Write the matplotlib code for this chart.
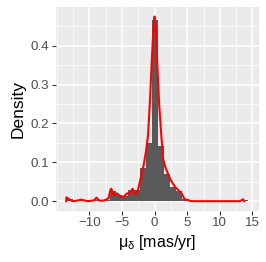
import numpy as np
import matplotlib
matplotlib.use("Agg")
import matplotlib.pyplot as plt
from matplotlib.ticker import MultipleLocator

# ---- data ----
bin_start = -13.37
bin_width = 0.925
hist_density = [0.006, 0.001, 0.002, 0.002, 0.004, 0.002, 0.004, 0.027, 0.015, 0.013,
                0.030, 0.030, 0.085, 0.150, 0.466, 0.143, 0.069, 0.037, 0.025, 0.005,
                0.0, 0.0, 0.0, 0.0, 0.0, 0.0, 0.0, 0.0, 0.0, 0.003]

kde_x = [-13.55, -13.5, -13.2, -12.8, -12.5, -12.0, -11.2, -10.8, -10.2, -9.3, -8.9, -8.5,
         -8.05, -7.55, -7.04, -6.78, -6.63, -6.28, -5.76, -5.25, -4.75, -4.23, -3.72, -3.37,
         -2.96, -2.55, -2.19, -1.68, -1.32, -1.0, -0.7, -0.4, -0.15, 0.0, 0.15, 0.4, 0.7,
         1.03, 1.3, 1.64, 2.15, 2.66, 3.17, 3.68, 4.19, 4.44, 4.7, 5.0, 5.4, 6.0, 8.0, 10.0,
         12.0, 13.0, 13.3, 13.55, 13.75]
kde_y = [0.0, 0.010, 0.006, 0.002, 0.0, 0.001, 0.004, 0.002, 0.0, 0.002, 0.009, 0.002,
         0.001, 0.003, 0.008, 0.028, 0.032, 0.015, 0.020, 0.013, 0.011, 0.020, 0.020, 0.032,
         0.017, 0.028, 0.054, 0.092, 0.127, 0.170, 0.26, 0.37, 0.45, 0.475, 0.45, 0.36, 0.25,
         0.17, 0.11, 0.088, 0.066, 0.049, 0.036, 0.028, 0.019, 0.010, 0.003, 0.004, 0.001, 0.0,
         0.0, 0.0, 0.0, 0.0, 0.002, 0.005, 0.0]

x_ticks = [-10, -5, 0, 5, 10, 15]
x_tick_labels = ["\u221210", "\u22125", "0", "5", "10", "15"]
y_ticks = [0.0, 0.1, 0.2, 0.3, 0.4]
y_tick_labels = ["0.0", "0.1", "0.2", "0.3", "0.4"]

# ---- plot ----
plt.rcParams['font.family'] = ['Liberation Sans', 'DejaVu Sans']
plt.rcParams['mathtext.fontset'] = 'custom'
plt.rcParams['mathtext.rm'] = 'Liberation Sans'

fig = plt.figure(figsize=(2.66, 2.62), dpi=100)
ax = fig.add_axes([56/266, 1 - 210.7/262, (259-56)/266, (210.7-7)/262])
ax.set_facecolor('#EBEBEB')

edges = bin_start + bin_width * np.arange(len(hist_density) + 1)
ax.bar(edges[:-1], hist_density, width=bin_width, align='edge', color='#595959',
       linewidth=0, zorder=2)
ax.plot(kde_x, kde_y, color='red', lw=1.5, zorder=3, solid_joinstyle='round')

ax.set_xlim(-15.1, 16.0)
ax.set_ylim(-0.0245, 0.4995)
ax.set_xticks(x_ticks)
ax.set_xticklabels(x_tick_labels)
ax.set_yticks(y_ticks)
ax.set_yticklabels(y_tick_labels)
ax.xaxis.set_minor_locator(MultipleLocator(2.5))
ax.yaxis.set_minor_locator(MultipleLocator(0.05))
ax.grid(which='major', color='white', lw=1.1, zorder=0)
ax.grid(which='minor', color='white', lw=0.55, zorder=0)
ax.set_axisbelow(True)
for s in ax.spines.values():
    s.set_visible(False)
ax.tick_params(which='major', length=2.7, width=0.8, color='#333333',
               labelcolor='#4D4D4D', labelsize=9.6, pad=2)
ax.tick_params(which='minor', length=0)

ax.set_xlabel(r'$\mathregular{\mu_\delta}$ [mas/yr]', fontsize=11.5, labelpad=3)
ax.set_ylabel('Density', fontsize=12.5, labelpad=4)

fig.savefig('out.png', dpi=100)
